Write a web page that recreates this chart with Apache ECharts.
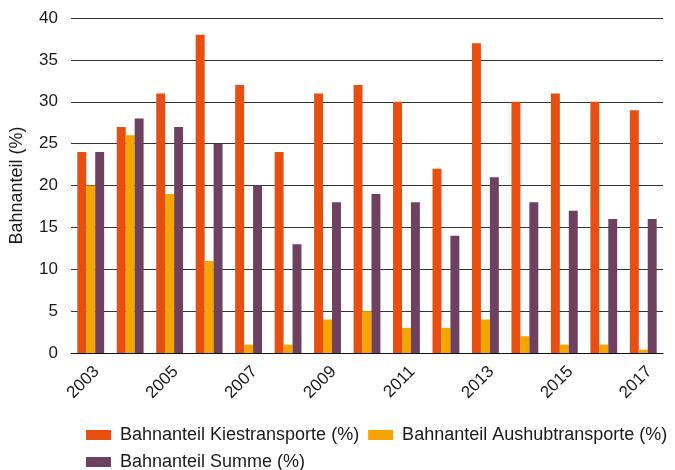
<!DOCTYPE html>
<html>
<head>
<meta charset="utf-8">
<script src="https://cdn.jsdelivr.net/npm/echarts@6/dist/echarts.min.js"></script>
<style>
  html, body { margin: 0; padding: 0; background: #fff; }
  #chart { width: 675px; height: 470px; }
</style>
</head>
<body>
<div id="chart"></div>
<script>
const years = ['2003', '2004', '2005', '2006', '2007', '2008', '2009', '2010',
    '2011', '2012', '2013', '2014', '2015', '2016', '2017'];
const kies = [24, 27, 31, 38, 32, 24, 31, 32, 30, 22, 37, 30, 31, 30, 29];
const aushub = [20, 26, 19, 11, 1, 1, 4, 5, 3, 3, 4, 2, 1, 1, 0.4];
const summe = [24, 28, 27, 25, 20, 13, 18, 19, 18, 14, 21, 18, 17, 16, 16];

const font = 'Liberation Sans, Arial, Helvetica, sans-serif';
const textColor = '#1a1a1a';

const bar = (name, data, color) => ({
    name: name,
    type: 'bar',
    data: data,
    barGap: '0%',
    barCategoryGap: '32%',
    itemStyle: {color: color},
    emphasis: {disabled: true},
});

const chart = echarts.init(document.getElementById('chart'));
chart.setOption({
    animation: false,
    textStyle: {fontFamily: font},
    grid: {left: 70, right: 12, top: 18, bottom: 117, containLabel: false},
    xAxis: {
        type: 'category',
        data: years,
        axisLine: {lineStyle: {color: '#111', width: 1}},
        axisTick: {show: false},
        axisLabel: {
            interval: 1,
            rotate: 45,
            margin: 10,
            verticalAlign: 'top',
            color: textColor,
            fontSize: 17,
            fontFamily: font,
        },
    },
    yAxis: {
        type: 'value',
        min: 0,
        max: 40,
        interval: 5,
        name: 'Bahnanteil (%)',
        nameLocation: 'middle',
        nameGap: 45,
        nameTextStyle: {color: textColor, fontSize: 18, fontFamily: font},
        axisLine: {show: false},
        axisTick: {show: false},
        axisLabel: {color: textColor, fontSize: 17, margin: 13, fontFamily: font},
        splitLine: {lineStyle: {color: '#333', width: 1}},
    },
    legend: {
        left: 81,
        top: 421,
        width: 594,
        itemWidth: 25,
        itemHeight: 10,
        itemGap: 9,
        icon: 'rect',
        textStyle: {color: textColor, fontSize: 18, fontFamily: font, padding: [0, 6, 0, 4]},
        data: ['Bahnanteil Kiestransporte (%)', 'Bahnanteil Aushubtransporte (%)', 'Bahnanteil Summe (%)'],
    },
    series: [
        bar('Bahnanteil Kiestransporte (%)', kies, '#E84E10'),
        bar('Bahnanteil Aushubtransporte (%)', aushub, '#F6A500'),
        bar('Bahnanteil Summe (%)', summe, '#6F4160'),
    ],
});
</script>
</body>
</html>
